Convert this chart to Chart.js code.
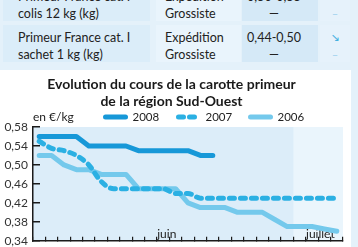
<!DOCTYPE html>
<html>
<head>
<meta charset="utf-8">
<script src="https://cdn.jsdelivr.net/npm/chart.js@4.4.0/dist/chart.umd.min.js"></script>
<style>
  html, body { margin: 0; padding: 0; }
  body { width: 358px; height: 247px; overflow: hidden; position: relative; background: #e4f1fa; font-family: Lato, "Open Sans", sans-serif; color: #222; }
  .cell { position: absolute; font-size: 12.5px; line-height: 17px; box-sizing: border-box; padding-top: 3.5px; }
  .c1 { left: 3px; width: 147px; padding-left: 15px; background: #dbedf9; }
  .c2 { left: 156px; width: 85px; padding-left: 9px; background: #e9f4fc; }
  .c3 { left: 242px; width: 64px; text-align: center; background: #d5e9f7; }
  .c3b { left: 306px; width: 12px; background: #d5e9f7; }
  .c4 { left: 320px; width: 30px; text-align: center; background: #e6f2fb; color: #45b1e0; font-family: "DejaVu Sans", sans-serif; font-size: 11px; }
  .r1 { top: -16px; height: 37px; }
  .r2 { top: 25px; height: 37px; }
  .dim { color: #9fd3ee; }
  #wrap { position: absolute; left: 0; top: 70px; width: 351px; height: 190px; background: #fff; }
  #carotteChart { position: absolute; left: 0; top: 0; }
</style>
</head>
<body>
<div class="cell c1 r1">Primeur France cat. I<br>colis 12 kg (kg)</div>
<div class="cell c2 r1">Expédition<br>Grossiste</div>
<div class="cell c3 r1">0,50-0,55<br>—</div>
<div class="cell c3b r1"></div>
<div class="cell c4 r1">↘<br><span class="dim">–</span></div>

<div class="cell c1 r2">Primeur France cat. I<br>sachet 1 kg (kg)</div>
<div class="cell c2 r2">Expédition<br>Grossiste</div>
<div class="cell c3 r2">0,44-0,50<br>—</div>
<div class="cell c3b r2"></div>
<div class="cell c4 r2">↘<br><span class="dim">–</span></div>

<div id="wrap"><canvas id="carotteChart" width="363" height="190"></canvas></div>

<script>
'use strict';

const weeks = ['1', '2', '3', '4', '5', '6', '7', '8', '9', '10', '11', '12', '13',
    '14', '15', '16', '17', '18', '19', '20', '21', '22', '23', '24', '25'];
const monthTicks = ['', '', '', '', '', '', '', '', '', '', 'juin', '', '', '',
    '', '', '', '', '', '', '', '', 'juillet', '', ''];
const yTicks = [0.34, 0.38, 0.42, 0.46, 0.50, 0.54, 0.58];

const price2008 = [0.56, 0.56, 0.56, 0.56, 0.54, 0.54, 0.54, 0.54, 0.53, 0.53, 0.53, 0.53, 0.53, 0.52, 0.52];
const price2007 = [0.55, 0.535, 0.53, 0.52, 0.50, 0.465, 0.45, 0.45, 0.45, 0.45, 0.45, 0.44, 0.44,
    0.43, 0.43, 0.43, 0.43, 0.43, 0.43, 0.43, 0.43, 0.43, 0.43, 0.43, 0.43];
const price2006 = [0.52, 0.52, 0.50, 0.49, 0.49, 0.48, 0.48, 0.48, 0.45, 0.45, 0.45, 0.45, 0.42,
    0.41, 0.41, 0.41, 0.40, 0.40, 0.40, 0.385, 0.37, 0.37, 0.37, 0.365, 0.36];

const FONT = 'Lato, "Open Sans", sans-serif';

// light blue plot background, lighter band for july
const plotBackground = {
    id: 'plotBackground',
    beforeDraw(chart) {
        const {ctx, chartArea: a, scales: {x}} = chart;
        const bandStart = (x.getPixelForValue(20) + x.getPixelForValue(21)) / 2;
        ctx.save();
        ctx.fillStyle = '#dcedf9';
        ctx.fillRect(a.left, a.top, a.right - a.left, a.bottom - a.top);
        ctx.fillStyle = '#eaf5fc';
        ctx.fillRect(bandStart, a.top, a.right - bandStart, a.bottom - a.top);
        ctx.restore();
    }
};

// unit + legend on one row above the plot
const topLegend = {
    id: 'topLegend',
    afterDraw(chart) {
        const ctx = chart.ctx;
        const y = 47;
        const starts = [105.5, 178.5, 250.5];
        ctx.save();
        ctx.textBaseline = 'middle';
        ctx.fillStyle = '#222';
        ctx.font = '12px ' + FONT;
        ctx.fillText('en €/kg', chart.chartArea.left, y);
        ctx.font = '11.5px ' + FONT;
        chart.data.datasets.forEach((ds, i) => {
            ctx.beginPath();
            ctx.lineWidth = 5;
            ctx.lineCap = 'round';
            ctx.strokeStyle = ds.borderColor;
            ctx.setLineDash(ds.borderDash || []);
            ctx.moveTo(starts[i], y);
            ctx.lineTo(starts[i] + 20, y);
            ctx.stroke();
            ctx.setLineDash([]);
            ctx.fillText(ds.label, starts[i] + 27, y);
        });
        ctx.restore();
    }
};

const line = (label, data, color, extra) => Object.assign({
    label: label,
    data: data,
    borderColor: color,
    backgroundColor: color,
    borderWidth: 5,
    borderCapStyle: 'round',
    borderJoinStyle: 'round',
    pointRadius: 0,
    tension: 0,
    fill: false
}, extra);

new Chart(document.getElementById('carotteChart'), {
    type: 'line',
    data: {
        labels: weeks,
        datasets: [
            line('2008', price2008, '#1798d8'),
            line('2007', price2007, '#2bb0e3', {borderDash: [5, 6], cubicInterpolationMode: 'monotone'}),
            line('2006', price2006, '#74c9ec')
        ]
    },
    options: {
        responsive: false,
        animation: false,
        events: [],
        layout: {padding: {left: 0, right: 20, top: 0, bottom: 0}},
        plugins: {
            legend: {display: false},
            tooltip: {enabled: false},
            title: {
                display: true,
                text: ['Evolution du cours de la carotte primeur', 'de la région Sud-Ouest'],
                color: '#1a1a1a',
                font: {family: FONT, size: 14, weight: 'bold', lineHeight: '17px'},
                padding: {top: 5.5, bottom: 17.5}
            }
        },
        scales: {
            x: {
                offset: true,
                grid: {offset: true, drawOnChartArea: false, tickLength: -4, color: '#1b1b1b', lineWidth: 1.2},
                border: {color: '#1b1b1b', width: 1.5},
                ticks: {
                    autoSkip: false,
                    maxRotation: 0,
                    minRotation: 0,
                    mirror: true,
                    align: 'start',
                    labelOffset: -6,
                    padding: -1,
                    color: '#222',
                    font: {family: FONT, size: 12},
                    callback: (v, i) => monthTicks[i]
                },
                afterFit: (s) => { s.height = 14; }
            },
            y: {
                min: yTicks[0],
                max: yTicks[yTicks.length - 1],
                afterBuildTicks: (s) => { s.ticks = yTicks.map(v => ({value: v})); },
                grid: {drawOnChartArea: false, tickLength: -7, color: '#1b1b1b', lineWidth: 1.5},
                border: {color: '#1b1b1b', width: 1.5},
                ticks: {
                    padding: 12,
                    color: '#333',
                    font: {family: FONT, size: 12},
                    callback: (v) => v.toFixed(2).replace('.', ',')
                },
                afterFit: (s) => { s.width = 33; }
            }
        }
    },
    plugins: [plotBackground, topLegend]
});
</script>
</body>
</html>
